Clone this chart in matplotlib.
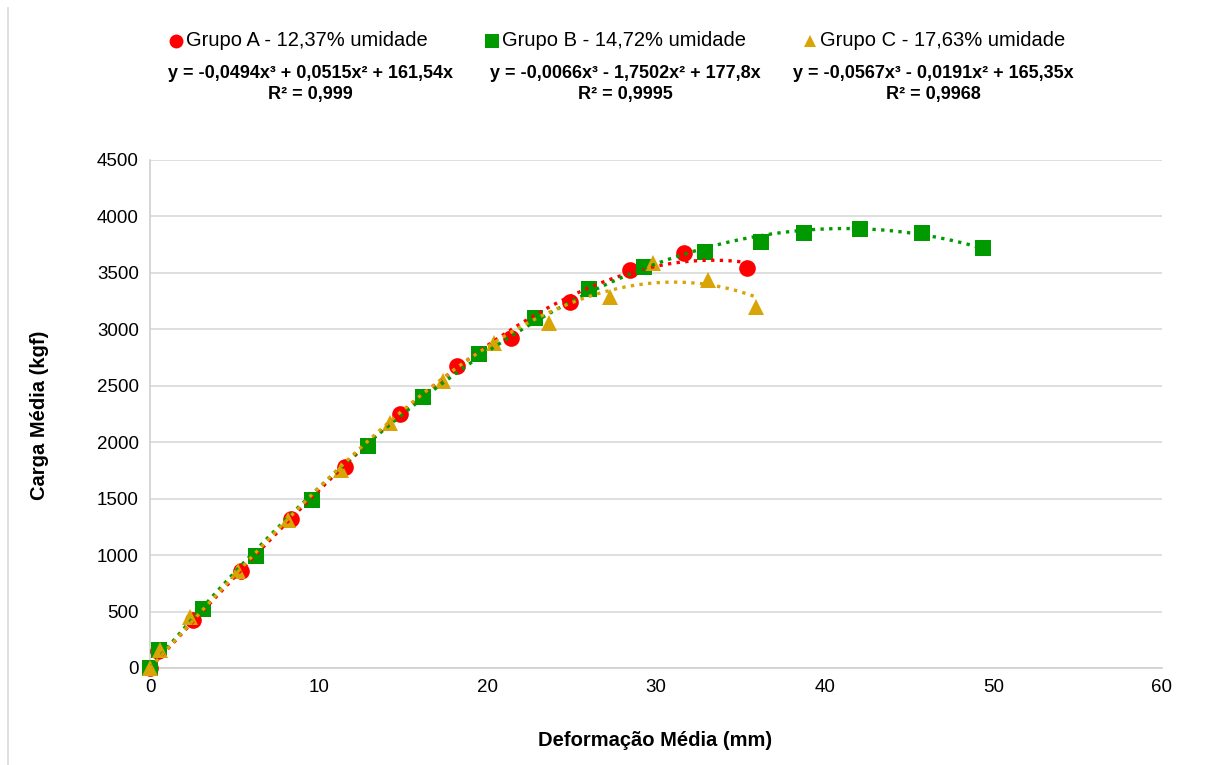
import numpy as np
import matplotlib
matplotlib.use("Agg")
import matplotlib.pyplot as plt
from matplotlib.lines import Line2D

plt.rcParams['font.family'] = ['Liberation Sans', 'DejaVu Sans']

# ---- data ----
labels = ["Grupo A - 12,37% umidade", "Grupo B - 14,72% umidade", "Grupo C - 17,63% umidade"]
equations = ["y = -0,0494x³ + 0,0515x² + 161,54x",
             "y = -0,0066x³ - 1,7502x² + 177,8x",
             "y = -0,0567x³ - 0,0191x² + 165,35x"]
r2_texts = ["R² = 0,999", "R² = 0,9995", "R² = 0,9968"]

a_x = [0.0, 0.47, 2.55, 5.4, 8.36, 11.56, 14.8, 18.2, 21.4, 24.9, 28.45, 31.65, 35.4]
a_y = [0, 150, 425, 860, 1320, 1780, 2250, 2675, 2923, 3242, 3525, 3676, 3543]

b_x = [0.0, 0.53, 3.14, 6.28, 9.6, 12.9, 16.2, 19.5, 22.8, 26.0, 29.3, 32.9, 36.2, 38.8, 42.1, 45.8, 49.4]
b_y = [0, 160, 523, 992, 1488, 1966, 2400, 2781, 3100, 3357, 3552, 3684, 3773, 3853, 3888, 3853, 3720]

c_x = [0.0, 0.6, 2.4, 5.2, 8.2, 11.3, 14.2, 17.4, 20.4, 23.65, 27.3, 29.8, 33.1, 35.95]
c_y = [0, 160, 450, 860, 1310, 1750, 2170, 2540, 2880, 3055, 3285, 3585, 3435, 3197]

# trendline coefficients (cubic, no intercept) as displayed
a_coef = [-0.0494, 0.0515, 161.54, 0.0]
b_coef = [-0.0066, -1.7502, 177.8, 0.0]
c_coef = [-0.0567, -0.0191, 165.35, 0.0]

xticks = [0, 10, 20, 30, 40, 50, 60]
yticks = [0, 500, 1000, 1500, 2000, 2500, 3000, 3500, 4000, 4500]

colors = ['#FF0000', '#009A00', '#D9A406']
markers = ['o', 's', '^']
msizes = [12, 11.5, 12]

W, H = 1206, 765
fig = plt.figure(figsize=(W / 100, H / 100), dpi=100)
ax = fig.add_axes([150 / W, 1 - 668 / H, (1162 - 150) / W, (668 - 160) / H])

series = [(a_x, a_y, a_coef), (b_x, b_y, b_coef), (c_x, c_y, c_coef)]
for i, (xs, ys, coef) in enumerate(series):
    ax.plot(xs, ys, linestyle='none', marker=markers[i], markersize=msizes[i],
            color=colors[i], markeredgewidth=0, zorder=3 + i, clip_on=False)
for i, (xs, ys, coef) in enumerate(series):
    xx = np.linspace(0, max(xs), 300)
    ax.plot(xx, np.polyval(coef, xx), linestyle=(0, (1, 1.6)), linewidth=2.4,
            color=colors[i], zorder=10 + i)

ax.set_xlim(0, 60)
ax.set_ylim(0, 4500)
ax.set_xticks(xticks)
ax.set_yticks(yticks)
ax.tick_params(axis='both', length=0, labelsize=13.5, colors='black')
ax.tick_params(axis='x', pad=8)
ax.tick_params(axis='y', pad=8)
ax.grid(axis='y', color='#D9D9D9', linewidth=1.2)
ax.set_axisbelow(True)
for s in ['top', 'right']:
    ax.spines[s].set_visible(False)
for s in ['left', 'bottom']:
    ax.spines[s].set_color('#D0D0D0')
    ax.spines[s].set_linewidth(1.2)

fig.text(655 / W, 1 - 740 / H, "Deformação Média (mm)", ha='center', va='center',
         fontsize=14.5, fontweight='bold')
fig.text(40 / W, 1 - 415 / H, "Carga Média (kgf)", ha='center', va='center',
         fontsize=14.5, fontweight='bold', rotation=90)

# legend (manual)
leg_mx = [176, 492, 810]
eq_cx = [310, 625, 933]
for i in range(3):
    fig.add_artist(Line2D([leg_mx[i] / W], [1 - 41 / H], transform=fig.transFigure,
                          marker=markers[i], color=colors[i], markersize=[10, 9.5, 9][i],
                          markeredgewidth=0, linestyle='none'))
    fig.text((leg_mx[i] + 10) / W, 1 - 41 / H, labels[i], ha='left', va='center', fontsize=14.5)
    fig.text(eq_cx[i] / W, 1 - 73 / H, equations[i], ha='center', va='center',
             fontsize=13, fontweight='bold')
    fig.text(eq_cx[i] / W, 1 - 95 / H, r2_texts[i], ha='center', va='center',
             fontsize=13, fontweight='bold')

# left frame line
fig.add_artist(Line2D([8 / W, 8 / W], [0, 1 - 8 / H], transform=fig.transFigure,
                      color='#D9D9D9', linewidth=1.2))

fig.savefig("out.png", dpi=100)
